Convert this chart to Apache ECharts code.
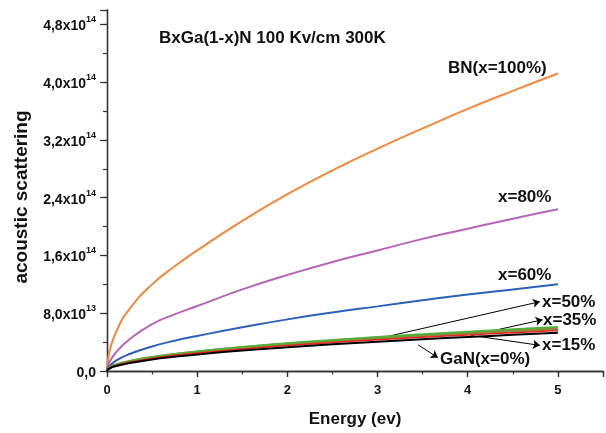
<!DOCTYPE html>
<html>
<head>
<meta charset="utf-8">
<script src="https://cdn.jsdelivr.net/npm/echarts@6/dist/echarts.min.js"></script>
<style>
  html, body { margin: 0; padding: 0; background: #fff; }
  #main { width: 606px; height: 433px; }
</style>
</head>
<body>
<div id="main"></div>
<script>
// energy (eV) sample points
var energy = [0, 0.02, 0.1, 0.25, 0.5, 0.75, 1, 1.5, 2, 2.5, 3, 3.5, 4, 4.5, 5];
// scattering rates, in units of 1e13
var bn100 = [0, 2.3, 5.4, 8.6, 12.0, 14.5, 16.7, 20.8, 24.5, 27.8, 30.8, 33.6, 36.3, 38.8, 41.2];
var x80 = [0, 1.05, 2.6, 4.4, 6.5, 7.85, 9.0, 11.3, 13.3, 15.1, 16.7, 18.3, 19.7, 21.1, 22.4];
var x60 = [0, 0.6, 1.45, 2.35, 3.4, 4.2, 4.85, 6.05, 7.15, 8.1, 8.95, 9.8, 10.6, 11.3, 12.0];
var x50 = [0, 0.39, 0.86, 1.36, 1.93, 2.36, 2.73, 3.34, 3.86, 4.31, 4.72, 5.10, 5.46, 5.79, 6.1];
var x35 = [0, 0.37, 0.83, 1.31, 1.85, 2.27, 2.62, 3.21, 3.71, 4.14, 4.54, 4.90, 5.24, 5.56, 5.86];
var x15 = [0, 0.35, 0.79, 1.25, 1.77, 2.17, 2.50, 3.06, 3.54, 3.95, 4.33, 4.68, 5.0, 5.31, 5.6];
var gan = [0, 0.30, 0.69, 1.11, 1.60, 1.97, 2.29, 2.83, 3.28, 3.69, 4.05, 4.39, 4.71, 5.01, 5.3];

var xTicks = [0, 1, 2, 3, 4, 5];
var titleText = 'BxGa(1-x)N 100 Kv/cm 300K';

var UNIT = 1e13;
function pairs(vals) {
    return energy.map(function (e, i) { return [e, vals[i] * UNIT]; });
}

function yFmt(v) {
    if (v === 0) return '{m|0,0}';
    if (Math.abs(v % 8e13) > 1) return '';
    var exp = Math.floor(Math.log10(v) + 1e-9);
    var mant = (v / Math.pow(10, exp)).toFixed(1).replace('.', ',');
    return '{m|' + mant + 'x10}{s|' + exp + '}';
}

var axisColor = '#333';
var font = 'Liberation Sans, Arial, sans-serif';

function line(name, vals, color, width, z) {
    return {
        type: 'line',
        name: name,
        data: pairs(vals),
        showSymbol: false,
        smooth: 0.5,
        lineStyle: { color: color, width: width },
        itemStyle: { color: color },
        z: z
    };
}

var chart = echarts.init(document.getElementById('main'));

var ganSeries = line('GaN(x=0%)', gan, '#000000', 2, 7);
ganSeries.markLine = {
    silent: true,
    symbol: ['none', 'arrow'],
    symbolSize: 7,
    label: { show: false },
    lineStyle: { color: '#000', width: 1, type: 'solid' },
    data: [
        [{ coord: [2.93, 4.27e13] }, { coord: [4.80, 9.6e13] }],
        [{ coord: [4.04, 4.92e13] }, { coord: [4.83, 7.1e13] }],
        [{ coord: [4.13, 4.77e13] }, { coord: [4.80, 3.55e13] }],
        [{ coord: [3.45, 3.62e13] }, { coord: [3.67, 1.85e13] }]
    ]
};

function label(text, x, y, size) {
    return {
        type: 'text', x: x, y: y,
        style: { text: text, font: 'bold ' + (size || 17) + 'px ' + font, fill: '#111', verticalAlign: 'middle' }
    };
}

var option = {
    animation: false,
    backgroundColor: '#fff',
    grid: { left: 107, right: 3, top: 10, bottom: 60 },
    xAxis: [
        {
            type: 'value', min: 0, max: 5.5, interval: 1, position: 'bottom',
            name: 'Energy (ev)', nameLocation: 'middle', nameGap: 40,
            nameTextStyle: { fontFamily: font, fontWeight: 'bold', fontSize: 17, color: '#111' },
            axisLine: { show: true, lineStyle: { color: axisColor, width: 1.3 } },
            axisTick: { show: true, length: 6, lineStyle: { color: axisColor, width: 1.2 } },
            axisLabel: {
                margin: 13, fontFamily: font, fontWeight: 'bold', fontSize: 13, color: '#111',
                formatter: function (v) { return xTicks.indexOf(v) >= 0 ? String(v) : ''; }
            },
            splitLine: { show: false }
        },
        {
            type: 'value', min: 0, max: 5.5, interval: 0.5, position: 'bottom',
            axisLine: { show: false },
            axisTick: { show: true, length: 3.5, lineStyle: { color: axisColor, width: 1.2 } },
            axisLabel: { show: false },
            splitLine: { show: false }
        },
        {
            type: 'value', min: 0, max: 5.5, interval: 1, position: 'top',
            axisLine: { show: true, lineStyle: { color: axisColor, width: 1.3 } },
            axisTick: { show: true, inside: true, length: 6, lineStyle: { color: axisColor, width: 1.2 } },
            axisLabel: { show: false },
            splitLine: { show: false }
        }
    ],
    yAxis: [
        {
            type: 'value', min: 0, max: 5e14, interval: 8e13, position: 'left',
            axisLine: { show: true, lineStyle: { color: axisColor, width: 1.3 } },
            axisTick: { show: true, length: 7, lineStyle: { color: axisColor, width: 1.2 } },
            axisLabel: {
                margin: 11, formatter: yFmt,
                rich: {
                    m: { fontFamily: font, fontWeight: 'bold', fontSize: 14, color: '#111', verticalAlign: 'bottom', lineHeight: 18 },
                    s: { fontFamily: font, fontWeight: 'bold', fontSize: 9, color: '#111', verticalAlign: 'top', lineHeight: 18 }
                }
            },
            splitLine: { show: false }
        },
        {
            type: 'value', min: 0, max: 5e14, interval: 4e13, position: 'left',
            axisLine: { show: false },
            axisTick: { show: true, length: 4, lineStyle: { color: axisColor, width: 1.2 } },
            axisLabel: { show: false },
            splitLine: { show: false }
        },
        {
            type: 'value', min: 0, max: 5e14, position: 'right',
            axisLine: { show: true, lineStyle: { color: axisColor, width: 1.3 } },
            axisTick: { show: false },
            axisLabel: { show: false },
            splitLine: { show: false }
        }
    ],
    series: [
        line('BN(x=100%)', bn100, '#f7873a', 2, 2),
        line('x=80%', x80, '#b665b8', 2, 3),
        line('x=60%', x60, '#2d62b9', 2, 4),
        line('x=35%', x35, '#8a8a40', 3.2, 5),
        line('x=50%', x50, '#4fb33b', 1.8, 6),
        line('x=15%', x15, '#e8281e', 1.5, 6),
        ganSeries
    ],
    graphic: [
        {
            type: 'text', x: 22, y: 197, rotation: Math.PI / 2,
            style: { text: 'acoustic scattering', font: 'bold 19px ' + font, fill: '#111', align: 'center', verticalAlign: 'middle' }
        },
        label(titleText, 159, 38),
        label('BN(x=100%)', 448, 68),
        label('x=80%', 498, 197),
        label('x=60%', 498, 275),
        label('x=50%', 542, 302),
        label('x=35%', 543, 320),
        label('x=15%', 542, 345),
        label('GaN(x=0%)', 440, 359)
    ]
};

chart.setOption(option);
</script>
</body>
</html>
